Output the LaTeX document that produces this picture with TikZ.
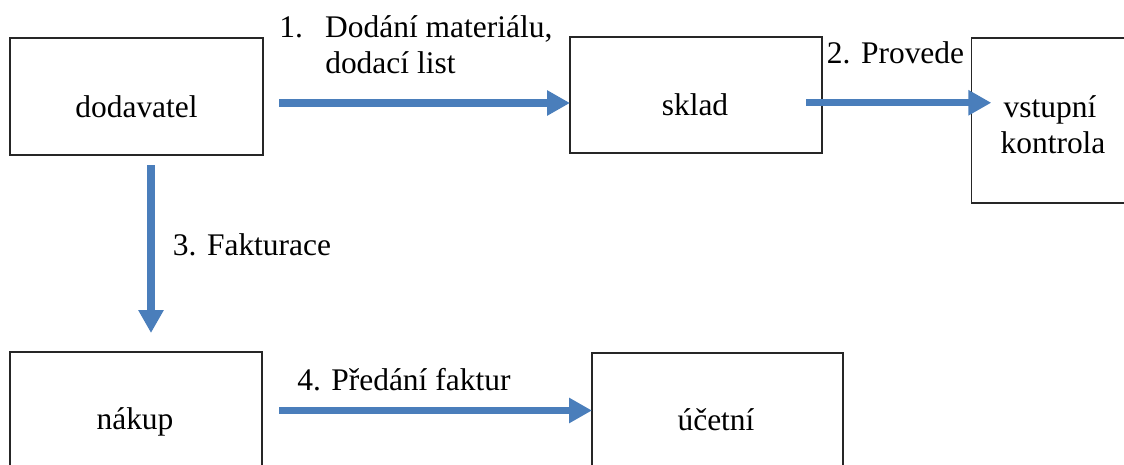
\documentclass[tikz,border=0pt]{standalone}
\usepackage{fontspec}
\setmainfont{Liberation Serif}
\usetikzlibrary{arrows.meta}
\definecolor{flowblue}{RGB}{74,126,187}
\begin{document}
\begin{tikzpicture}[x=0.75pt,y=-0.75pt,
  box/.style={draw=black!85,line width=1pt,rectangle,inner sep=0pt,outer sep=0pt},
  boxtext/.style={anchor=base,inner sep=0pt,font=\fontsize{23.6}{27}\selectfont},
  steplabel/.style={anchor=base west,inner sep=0pt,font=\fontsize{23.6}{27}\selectfont},
  flow/.style={draw=flowblue,line width=5.6pt,
    -{Triangle[length=17.25pt,width=18pt]}}]
\useasboundingbox (0,0) rectangle (1124,464);
\clip (0,0) rectangle (1124,464);

% boxes
\node[box,minimum width=189.75pt,minimum height=87.75pt] (dod) at (136.5,96.5) {};
\node[box,minimum width=189pt,minimum height=87pt] (sklad) at (696,95) {};
\node[box,minimum width=121pt,minimum height=123.75pt] (vst) at (1052,120.5) {};
\node[box,minimum width=189pt,minimum height=87.75pt] (nak) at (136,410.5) {};
\node[box,minimum width=188.25pt,minimum height=87.75pt] (uct) at (717.5,411.5) {};

% box captions
\node[boxtext] (tdod) at (136.5,117) {dodavatel};
\node[boxtext] (tsklad) at (695,115) {sklad};
\node[boxtext] (tvst1) at (1050,117) {vstupní};
\node[boxtext] (tvst2) at (1053,153) {kontrola};
\node[boxtext] (tnak) at (135,429) {nákup};
\node[boxtext] (tuct) at (716,430) {účetní};

% connectors
\draw[flow] ([shift={(12pt,-4.875pt)}]dod.east) -- ([yshift=-6pt]sklad.west);
\draw[flow] ([shift={(-12pt,-5.8125pt)}]sklad.east) -- ([shift={(15pt,13.3125pt)}]vst.west);
\draw[flow] ([shift={(10.875pt,-7.5pt)}]dod.south) -- ([shift={(11.25pt,14.25pt)}]nak.north);
\draw[flow] ([xshift=12.75pt]nak.east) -- ([yshift=0.75pt]uct.west);

% step labels
\node[steplabel] (l1a) at (279,37) {\makebox[34.5pt][l]{1.}Dodání materiálu,};
\node[steplabel] (l1b) at (325,73) {dodací list};
\node[steplabel] (l2) at (826.7,63) {2. Provede};
\node[steplabel] (l3) at (172.7,255) {3. Fakturace};
\node[steplabel] (l4) at (297,390) {4. Předání faktur};
\end{tikzpicture}
\end{document}
